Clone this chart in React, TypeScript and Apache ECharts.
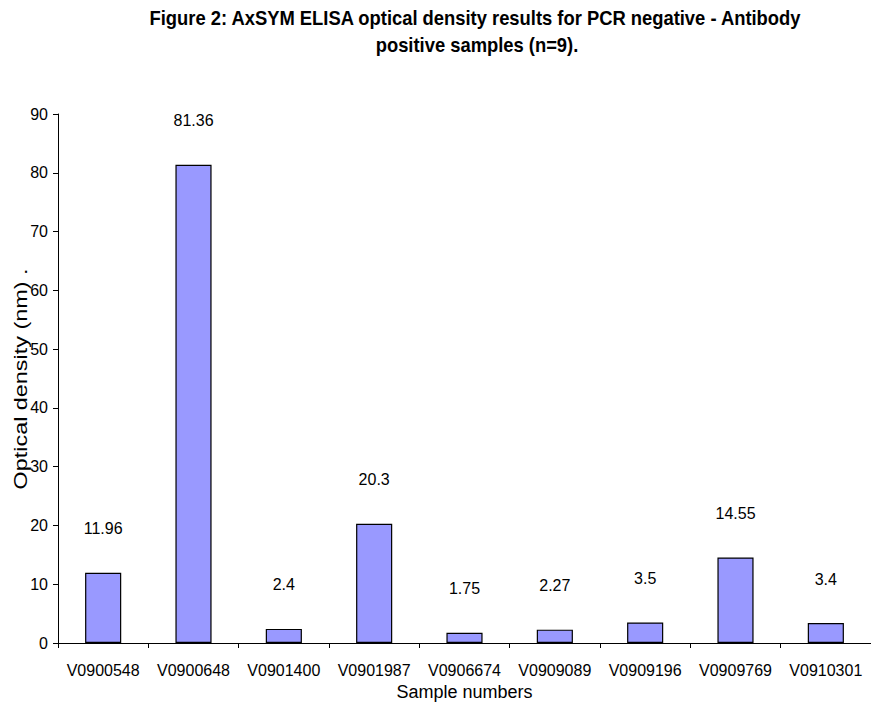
import React, { useEffect, useRef } from "react";
import * as echarts from "echarts";

const titleLine1 = "Figure 2: AxSYM ELISA optical density results for PCR negative - Antibody";
const titleLine2 = "positive samples (n=9).";
const xAxisName = "Sample numbers";
const yAxisName = "Optical density (nm) .";
const categories = [
  "V0900548",
  "V0900648",
  "V0901400",
  "V0901987",
  "V0906674",
  "V0909089",
  "V0909196",
  "V0909769",
  "V0910301",
];
const values = [11.96, 81.36, 2.4, 20.3, 1.75, 2.27, 3.5, 14.55, 3.4];

const FONT = "'Liberation Sans', Arial, sans-serif";

export default function App() {
  const ref = useRef<HTMLDivElement>(null);
  useEffect(() => {
    if (!ref.current) return;
    const chart = echarts.init(ref.current, undefined, { renderer: "svg" });
    const titleStyle = {
      fill: "#000",
      fontSize: 21,
      fontWeight: "bold",
      fontFamily: FONT,
      align: "center",
      verticalAlign: "middle",
      textAlign: "center",
      textVerticalAlign: "middle",
    };
    chart.setOption({
      animation: false,
      backgroundColor: "#ffffff",
      grid: { left: 58, top: 114, width: 823, height: 531, containLabel: false },
      xAxis: {
        type: "category",
        data: categories,
        name: xAxisName,
        nameLocation: "middle",
        nameGap: 40,
        nameTextStyle: { color: "#000", fontSize: 18, fontFamily: FONT },
        axisLine: { lineStyle: { color: "#000", width: 1 } },
        axisTick: { show: true, length: 5, lineStyle: { color: "#000" } },
        axisLabel: { color: "#000", fontSize: 16, fontFamily: FONT, margin: 19, interval: 0 },
      },
      yAxis: {
        type: "value",
        min: 0,
        max: 90,
        interval: 10,
        axisLine: { show: true, lineStyle: { color: "#000", width: 1 } },
        axisTick: { show: true, length: 5, lineStyle: { color: "#000" } },
        axisLabel: { color: "#000", fontSize: 16, fontFamily: FONT, margin: 10 },
        splitLine: { show: false },
      },
      series: [
        {
          type: "bar",
          data: values,
          barWidth: "40%",
          itemStyle: { color: "#9999FF", borderColor: "#000", borderWidth: 1.2 },
          label: {
            show: true,
            position: "top",
            distance: 36,
            color: "#000",
            fontSize: 16,
            fontFamily: FONT,
          },
        },
      ],
      graphic: [
        {
          type: "text",
          x: 475,
          y: 18,
          scaleX: 0.875,
          style: { ...titleStyle, text: titleLine1 },
        },
        {
          type: "text",
          x: 477,
          y: 45,
          scaleX: 0.875,
          style: { ...titleStyle, text: titleLine2 },
        },
        {
          type: "text",
          x: 21,
          y: 379,
          rotation: Math.PI / 2,
          scaleX: 1.3,
          style: {
            text: yAxisName,
            fill: "#000",
            fontSize: 18,
            fontFamily: FONT,
            align: "center",
            verticalAlign: "middle",
            textAlign: "center",
            textVerticalAlign: "middle",
          },
        },
      ],
    });
    return () => chart.dispose();
  }, []);
  return <div ref={ref} style={{ width: 871, height: 706, position: "absolute", left: 0, top: 0 }} />;
}
